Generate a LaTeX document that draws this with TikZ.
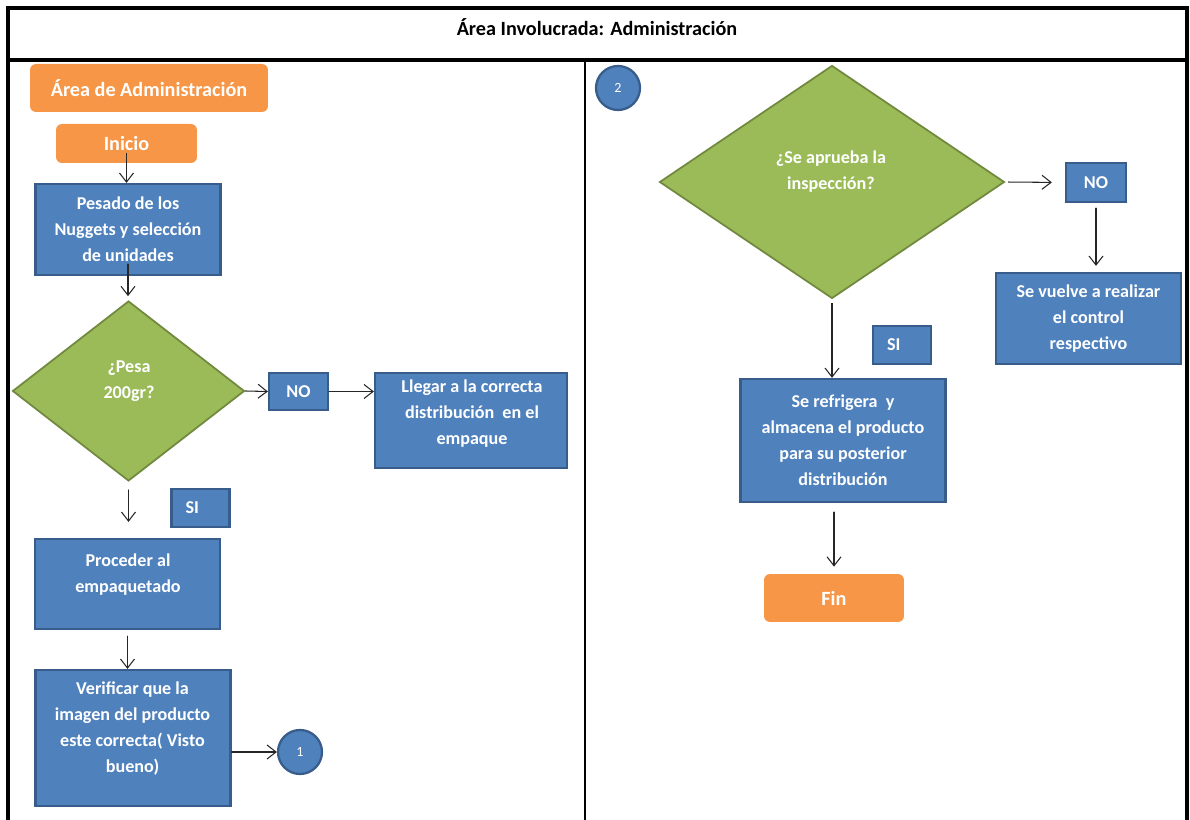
\documentclass[tikz,border=0pt]{standalone}
\usepackage{fontspec}
\setmainfont{Carlito}
\usepackage{tikz}
\usetikzlibrary{arrows.meta,shapes.geometric}
\definecolor{procblue}{HTML}{4F81BD}
\definecolor{procedge}{HTML}{385D8A}
\definecolor{decgreen}{HTML}{9BBB59}
\definecolor{decedge}{HTML}{71893F}
\definecolor{termorange}{HTML}{F79646}

\begin{document}
\begin{tikzpicture}[x=0.02cm,y=-0.02cm,>={Straight Barb[length=1.8mm,width=2.8mm]},
  font=\fontsize{10.3}{14.8}\selectfont\bfseries,line cap=round,
  proc/.style={draw=procedge,fill=procblue,line width=1.3pt,text=white,align=center,inner sep=0pt},
  deci/.style={diamond,draw=decedge,fill=decgreen,line width=1pt,inner sep=0pt},
  term/.style={fill=termorange,rounded corners=0.12cm,text=white,inner sep=0pt,font=\fontsize{11.5}{14}\selectfont\bfseries},
  conn/.style={circle,draw=procedge,fill=procblue,line width=1.3pt,text=white,minimum size=0.88cm,inner sep=0pt,font=\fontsize{8}{10}\selectfont},
  txt/.style={text=white,align=center,inner sep=0pt},
  tag/.style={proc,minimum height=0.76cm,text width=0.6cm,inner xsep=0.28cm,align=left},
  flow/.style={->,line width=0.6pt,draw=black!85}]
\useasboundingbox (0,0) rectangle (1190,820);
% frame
\draw[line width=2pt] (8,820) -- (8,8) -- (1187,8) -- (1187,820);
\draw[line width=2pt] (8,60) -- (1187,60);
\draw[line width=0.6pt] (585,60) -- (585,820);
\node[font=\fontsize{11.5}{14}\selectfont\bfseries] (title) at (597,27) {Área Involucrada: Administración};

% left column
\node[term,minimum width=4.76cm,minimum height=0.96cm] (area) at (149,88) {Área de Administración};
\node[term,minimum width=2.82cm,minimum height=0.78cm] (inicio) at (126.5,143.5) {Inicio};
\node[proc,minimum width=3.7cm,minimum height=1.82cm] (pesado) at (128,229.5) {Pesado de los\\Nuggets y selección\\de unidades};
\node[deci,minimum width=4.64cm,minimum height=3.6cm] (dec1) at (128.5,391) {};
\node[txt] (q1) at (129,381) {¿Pesa\\200gr?};
\node[proc,minimum width=1.18cm,minimum height=0.74cm] (no1) at (298.5,391.5) {NO};
\node[proc,minimum width=3.84cm,minimum height=1.9cm] (llegar) at (471,420.5) {};
\node[txt] (t-llegar) at (472,414) {Llegar a la correcta\\distribución\ \ en el\\empaque};
\node[tag] (si1) at (200.5,508) {SI};
\node[proc,minimum width=3.7cm,minimum height=1.8cm] (proceder) at (127.5,584) {};
\node[txt] (t-proceder) at (128,574.5) {Proceder al\\empaquetado};
\node[proc,minimum width=3.9cm,minimum height=2.72cm] (verificar) at (133,738) {};
\node[txt] (t-verificar) at (132.5,728.5) {Verificar\ que la\\imagen del producto\\este correcta( Visto\\bueno)};
\node[conn] (c1) at (300,752) {1};

% right column
\node[conn] (c2) at (618,88) {2};
\node[deci,minimum width=6.9cm,minimum height=4.66cm] (dec2) at (832,182) {};
\node[txt] (q2) at (831,171.5) {¿Se aprueba la\\inspección?};
\node[proc,minimum width=1.2cm,minimum height=0.78cm] (no2) at (1096,182.5) {NO};
\node[proc,minimum width=3.7cm,minimum height=1.82cm] (vuelve) at (1088.5,318.5) {Se vuelve a realizar\\el control\\respectivo};
\node[tag] (si2) at (902,345) {SI};
\node[proc,minimum width=4.1cm,minimum height=2.46cm] (refri) at (843,440.5) {Se refrigera\ \ y\\almacena el producto\\para su posterior\\distribución};
\node[term,minimum width=2.8cm,minimum height=0.96cm] (fin) at (834,598) {Fin};

% connectors
\draw[flow,shorten <=-0.2cm] (inicio.south) -- (inicio.south |- pesado.north);
\draw[flow,shorten <=-0.24cm,shorten >=0.08cm] (pesado.south) -- (pesado.south |- dec1.north);
\draw[flow] (dec1.east) -- (no1.west);
\draw[flow] (no1.east) -- (no1.east -| llegar.west);
\draw[flow,shorten <=0.16cm,shorten >=0.32cm] (dec1.south) -- (dec1.south |- proceder.north);
\draw[flow,shorten <=0.12cm] (proceder.south) -- (proceder.south |- verificar.north);
\draw[flow] (verificar.east |- c1.west) -- (c1.west);
\draw[flow,shorten <=0.06cm,shorten >=0.26cm] (dec2.east) -- (no2.west);
\draw[flow,shorten <=0.1cm,shorten >=0.12cm] (no2.south) -- (no2.south |- vuelve.north);
\draw[flow,shorten <=0.08cm] (dec2.south) -- (dec2.south |- refri.north);
\draw[flow,shorten <=0.18cm,shorten >=0.14cm] (fin.north |- refri.south) -- (fin.north);
\end{tikzpicture}
\end{document}
